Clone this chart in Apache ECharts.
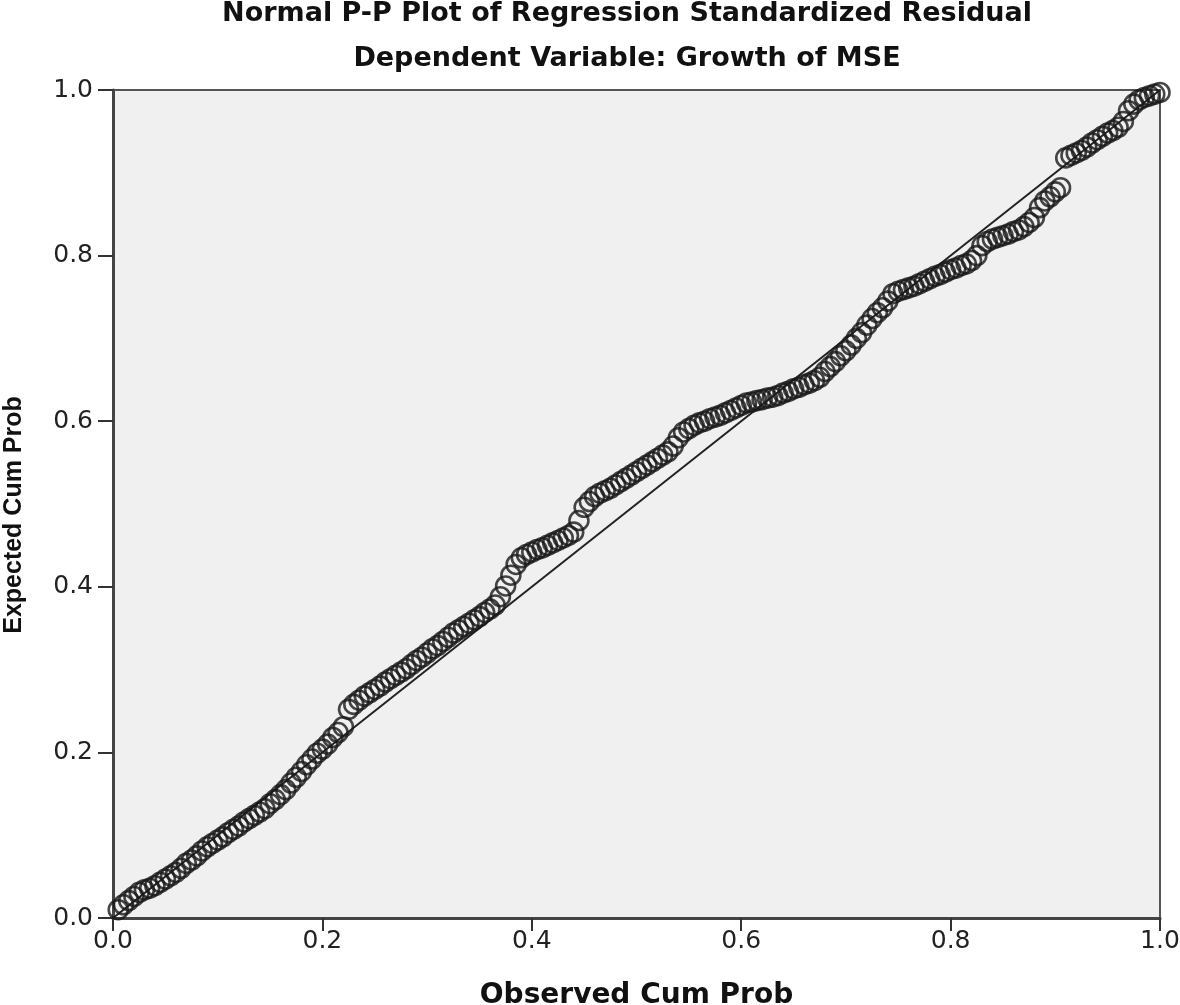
<!DOCTYPE html>
<html>
<head>
<meta charset="utf-8">
<script src="https://cdn.jsdelivr.net/npm/echarts@6/dist/echarts.min.js"></script>
<style>
html,body{margin:0;padding:0;background:#ffffff;}
#chart{width:1180px;height:1005px;}
</style>
</head>
<body>
<div id="chart"></div>
<script>
// Observed cumulative probability (x) and expected cumulative probability (y)
var observedCumProb = [
0.005,0.010,0.015,0.020,0.025,0.030,0.035,0.040,0.045,0.050,
0.055,0.060,0.065,0.070,0.075,0.080,0.085,0.090,0.095,0.100,
0.105,0.110,0.115,0.120,0.125,0.130,0.135,0.140,0.145,0.150,
0.155,0.160,0.165,0.170,0.175,0.180,0.185,0.190,0.195,0.200,
0.205,0.210,0.215,0.220,0.225,0.230,0.235,0.240,0.245,0.250,
0.255,0.260,0.265,0.270,0.275,0.280,0.285,0.290,0.295,0.300,
0.305,0.310,0.315,0.320,0.325,0.330,0.335,0.340,0.345,0.350,
0.355,0.360,0.365,0.370,0.375,0.380,0.385,0.390,0.395,0.400,
0.405,0.410,0.415,0.420,0.425,0.430,0.435,0.440,0.445,0.450,
0.455,0.460,0.465,0.470,0.475,0.480,0.485,0.490,0.495,0.500,
0.505,0.510,0.515,0.520,0.525,0.530,0.535,0.540,0.545,0.550,
0.555,0.560,0.565,0.570,0.575,0.580,0.585,0.590,0.595,0.600,
0.605,0.610,0.615,0.620,0.625,0.630,0.635,0.640,0.645,0.650,
0.655,0.660,0.665,0.670,0.675,0.680,0.685,0.690,0.695,0.700,
0.705,0.710,0.715,0.720,0.725,0.730,0.735,0.740,0.745,0.750,
0.755,0.760,0.765,0.770,0.775,0.780,0.785,0.790,0.795,0.800,
0.805,0.810,0.815,0.820,0.825,0.830,0.835,0.840,0.845,0.850,
0.855,0.860,0.865,0.870,0.875,0.880,0.885,0.890,0.895,0.900,
0.905,0.910,0.915,0.920,0.925,0.930,0.935,0.940,0.945,0.950,
0.955,0.960,0.965,0.970,0.975,0.980,0.985,0.990,0.995,1.000
];
var expectedCumProb = [
0.010,0.016,0.021,0.026,0.031,0.034,0.036,0.039,0.043,0.047,
0.051,0.055,0.060,0.066,0.070,0.075,0.081,0.086,0.090,0.094,
0.098,0.103,0.107,0.111,0.116,0.120,0.124,0.128,0.132,0.138,
0.143,0.149,0.155,0.163,0.170,0.177,0.185,0.192,0.199,0.204,
0.210,0.218,0.224,0.231,0.252,0.258,0.263,0.268,0.272,0.276,
0.280,0.285,0.289,0.293,0.297,0.301,0.306,0.311,0.315,0.320,
0.325,0.329,0.334,0.339,0.344,0.348,0.352,0.356,0.360,0.364,
0.369,0.373,0.378,0.388,0.401,0.414,0.427,0.435,0.439,0.442,
0.445,0.447,0.450,0.453,0.456,0.459,0.462,0.466,0.480,0.496,
0.503,0.509,0.513,0.516,0.519,0.523,0.527,0.531,0.535,0.539,
0.543,0.547,0.551,0.555,0.559,0.563,0.570,0.580,0.587,0.591,
0.595,0.598,0.600,0.603,0.605,0.607,0.610,0.613,0.616,0.619,
0.622,0.623,0.625,0.626,0.628,0.629,0.631,0.634,0.636,0.639,
0.641,0.644,0.646,0.649,0.653,0.660,0.666,0.672,0.679,0.685,
0.692,0.700,0.707,0.716,0.724,0.731,0.737,0.745,0.754,0.757,
0.759,0.761,0.763,0.766,0.769,0.772,0.775,0.777,0.780,0.783,
0.785,0.788,0.790,0.794,0.800,0.812,0.817,0.820,0.822,0.824,
0.826,0.829,0.831,0.835,0.840,0.846,0.858,0.866,0.871,0.877,
0.882,0.918,0.921,0.924,0.927,0.931,0.936,0.940,0.944,0.948,
0.951,0.955,0.962,0.975,0.983,0.988,0.991,0.993,0.995,0.997
];
var referenceLine = [[0, 0], [1, 1]];
var titleMain = 'Normal P-P Plot of Regression Standardized Residual';
var titleSub = 'Dependent Variable: Growth of MSE';
var xName = 'Observed Cum Prob';
var yName = 'Expected Cum Prob';

var points = observedCumProb.map(function (x, i) { return [x, expectedCumProb[i]]; });

var chart = echarts.init(document.getElementById('chart'), null, {renderer: 'canvas'});
var tickFont = {fontFamily: 'DejaVu Sans', fontSize: 25, color: '#222'};
var titleFont = {fontFamily: 'DejaVu Sans', fontWeight: 'bold', fontSize: 27, color: '#111'};
chart.setOption({
  animation: false,
  backgroundColor: '#ffffff',
  title: [
    {text: titleMain, left: 622, top: -5, textAlign: 'center', textStyle: titleFont},
    {text: titleSub, left: 622, top: 40, textAlign: 'center', textStyle: titleFont}
  ],
  grid: {left: 113, right: 20, top: 90, bottom: 87, show: true, outerBoundsMode: 'none',
         containLabel: false,
         backgroundColor: '#f0f0f0', borderColor: '#555', borderWidth: 2},
  xAxis: {
    type: 'value', min: 0, max: 1, interval: 0.2,
    name: xName, nameLocation: 'middle', nameGap: 64,
    nameTextStyle: {fontFamily: 'DejaVu Sans', fontWeight: 'bold', fontSize: 28, color: '#111'},
    axisLine: {show: true, lineStyle: {color: '#444', width: 3}},
    axisTick: {show: true, inside: false, length: 13, lineStyle: {color: '#333', width: 2}},
    axisLabel: Object.assign({margin: 11, formatter: function (v) { return v.toFixed(1); }}, tickFont),
    splitLine: {show: false}
  },
  yAxis: {
    type: 'value', min: 0, max: 1, interval: 0.2,
    name: yName, nameLocation: 'middle', nameGap: 86, nameRotate: 90,
    nameTextStyle: {fontFamily: 'Liberation Sans', fontWeight: 'bold', fontSize: 25, color: '#111',
                    padding: [0, 22, 0, 0]},
    axisLine: {show: true, lineStyle: {color: '#444', width: 3}},
    axisTick: {show: true, inside: false, length: 15, lineStyle: {color: '#333', width: 2}},
    axisLabel: Object.assign({margin: 20, formatter: function (v) { return v.toFixed(1); }}, tickFont),
    splitLine: {show: false}
  },
  series: [
    {type: 'line', data: referenceLine, symbol: 'none', silent: true, z: 1,
     lineStyle: {color: '#222', width: 2}},
    {type: 'scatter', data: points, symbol: 'circle', symbolSize: 19, z: 2,
     itemStyle: {color: 'rgba(0,0,0,0)', borderColor: '#191919', borderWidth: 2.6}}
  ]
});
</script>
</body>
</html>
